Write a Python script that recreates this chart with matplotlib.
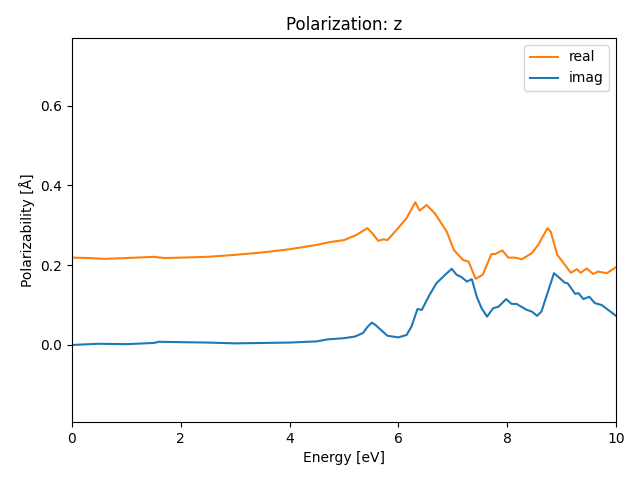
import matplotlib
matplotlib.use('Agg')
import matplotlib.pyplot as plt

# energy grid [eV] and polarizability values
e_real = [0.0, 0.3, 0.6, 1.0, 1.5, 1.7, 2.0, 2.5, 3.0, 3.5, 4.0, 4.5, 4.74, 5.0, 5.23,
          5.43, 5.52, 5.63, 5.72, 5.80, 5.97, 6.15, 6.31, 6.39, 6.52, 6.67, 6.89,
          7.02, 7.19, 7.29, 7.42, 7.55, 7.71, 7.78, 7.91, 8.02, 8.14, 8.27, 8.45,
          8.57, 8.74, 8.80, 8.92, 9.06, 9.17, 9.28, 9.35, 9.46, 9.58, 9.67, 9.83, 10.0]
real = [0.219, 0.218, 0.216, 0.218, 0.221, 0.218, 0.219, 0.221, 0.226, 0.232, 0.240,
        0.251, 0.258, 0.263, 0.276, 0.293, 0.280, 0.261, 0.265, 0.263, 0.289, 0.318,
        0.358, 0.337, 0.351, 0.330, 0.284, 0.238, 0.213, 0.209, 0.166, 0.176, 0.228,
        0.228, 0.237, 0.219, 0.219, 0.215, 0.230, 0.251, 0.293, 0.284, 0.226, 0.201,
        0.181, 0.190, 0.181, 0.192, 0.178, 0.184, 0.180, 0.195]

e_imag = [0.0, 0.5, 1.0, 1.5, 1.6, 2.0, 2.5, 3.0, 3.5, 4.0, 4.5, 4.7, 5.0, 5.2, 5.35,
          5.43, 5.51, 5.58, 5.66, 5.8, 6.0, 6.15, 6.24, 6.35, 6.43, 6.57, 6.70, 6.86,
          6.98, 7.07, 7.16, 7.26, 7.35, 7.44, 7.53, 7.63, 7.74, 7.84, 7.98, 8.08, 8.17,
          8.36, 8.45, 8.55, 8.63, 8.86, 8.97, 9.06, 9.11, 9.25, 9.31, 9.40, 9.51, 9.61,
          9.74, 10.0]
imag = [0.0, 0.003, 0.002, 0.005, 0.008, 0.007, 0.006, 0.004, 0.005, 0.006, 0.009,
        0.014, 0.017, 0.021, 0.030, 0.045, 0.056, 0.050, 0.040, 0.023, 0.019, 0.025,
        0.046, 0.090, 0.088, 0.125, 0.155, 0.176, 0.191, 0.176, 0.170, 0.159, 0.165,
        0.121, 0.092, 0.071, 0.092, 0.096, 0.115, 0.103, 0.103, 0.088, 0.084, 0.073,
        0.084, 0.180, 0.167, 0.156, 0.155, 0.128, 0.130, 0.115, 0.121, 0.105, 0.100,
        0.073]

fig, ax = plt.subplots(figsize=(6.4, 4.8), dpi=100)
ax.plot(e_real, real, color='C1', label='real')
ax.plot(e_imag, imag, color='C0', label='imag')
ax.set_xlim(0, 10)
ax.set_ylim(-0.193, 0.770)
ax.set_yticks([0.0, 0.2, 0.4, 0.6])
ax.set_xlabel('Energy [eV]')
ax.set_ylabel('Polarizability [Å]')
ax.set_title('Polarization: z')
ax.legend(loc='upper right')
fig.subplots_adjust(left=0.1125, right=0.9625, top=0.921, bottom=0.121)
fig.savefig('out.png')
